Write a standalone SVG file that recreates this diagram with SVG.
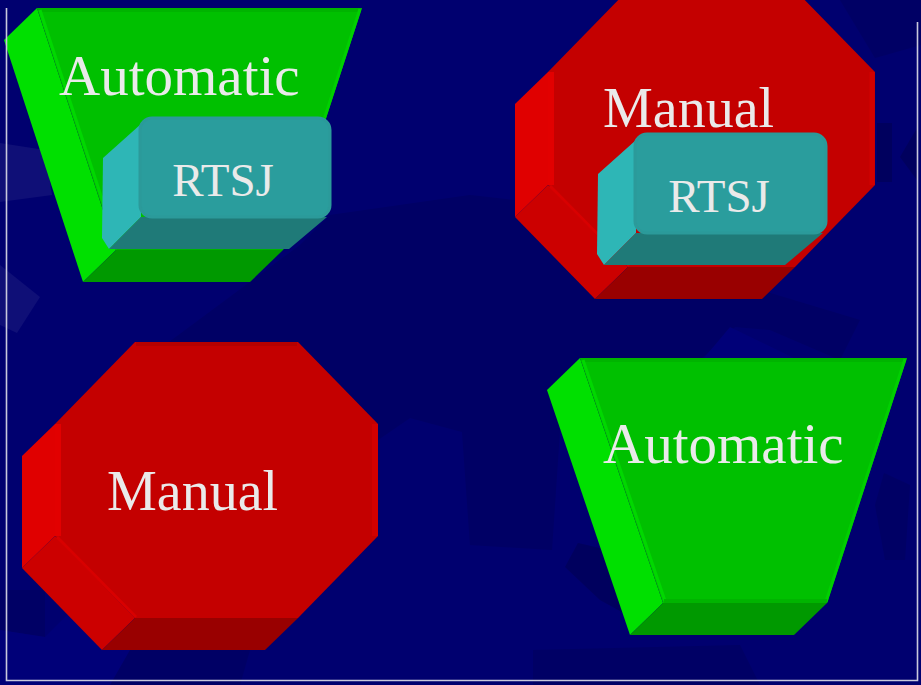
<svg xmlns="http://www.w3.org/2000/svg" width="921" height="685" viewBox="0 0 921 685">
  <style>
    .label { font-family: "Liberation Serif", "Times New Roman", serif; fill: #EAEAEA; }
    .big { font-size: 57px; }
    .mid { font-size: 56px; }
    .small { font-size: 47px; }
    .g-front { fill: #00C000; }
    .g-side { fill: #00E000; }
    .g-bottom { fill: #009900; }
    .r-front { fill: #C40000; }
    .r-side { fill: #E00000; }
    .r-diag { fill: #CC0000; }
    .r-bottom { fill: #990000; }
    .t-front { fill: #2A9D9D; stroke: #2B9A9A; stroke-width: 3; }
    .t-side { fill: #2EB6B6; }
    .t-bottom { fill: #1F7A78; }
    .bg-dark { fill: #000065; }
    .bg-darker { fill: #00005E; }
    .bg-light { fill: #000078; }
    .bg-haze { fill: #FFFFFF; opacity: 0.06; }
    .frame { stroke: #C8C8DC; stroke-width: 1.6; fill: none; }
  </style>

  <!-- backdrop -->
  <g id="background">
    <rect x="0" y="0" width="921" height="685" fill="#00006F"/>
    <polygon class="bg-dark" points="165,345 300,245 330,215 470,195 620,212 760,290 860,320 840,360 770,330 735,327 700,360 560,430 552,550 470,545 462,432 410,418 378,440 300,450 230,380"/>
    <polygon class="bg-light" points="704,358 730,327 794,358"/>
    <polygon class="bg-darker" points="565,567 578,543 630,555 640,622 600,600"/>
    <polygon class="bg-dark" points="530,390 548,390 548,547 530,547"/>
    <polygon class="bg-dark" points="533,650 740,645 760,685 533,685"/>
    <polygon class="bg-dark" points="117,650 250,650 240,685 110,685"/>
    <polygon class="bg-dark" points="0,590 45,590 45,637 0,630"/>
    <polygon class="bg-light" points="0,630 45,637 70,612 130,650 110,685 0,685"/>
    <polygon class="bg-haze" points="0,143 45,150 52,195 0,202"/>
    <polygon class="bg-haze" points="0,265 40,297 17,333 0,325"/>
    <polygon class="bg-darker" points="877,123 892,123 892,182 877,182"/>
    <polygon class="bg-darker" points="900,157 917,128 917,180"/>
    <polygon class="bg-dark" points="840,0 921,0 921,45 875,58"/>
    <polygon class="bg-dark" points="875,505 884,473 910,485 905,560 885,560"/>
  </g>

  <!-- Automatic (top left) with RTSJ -->
  <g id="node-automatic-1">
    <polygon class="g-side" points="37,8 116,250 83,282 4,40"/>
    <polygon class="g-bottom" points="116,250 283,250 250,282 83,282"/>
    <polygon class="g-front" points="37,8 362,8 283,250 116,250"/>
    <line x1="38" y1="10" x2="361" y2="10" stroke="#00B400" stroke-width="4"/>
    <line x1="360" y1="9" x2="282" y2="249" stroke="#00D000" stroke-width="3"/>
    <line x1="40" y1="10" x2="118" y2="248" stroke="#00D800" stroke-width="3"/>
    <line x1="117" y1="248" x2="283" y2="248" stroke="#00B400" stroke-width="4"/>
    <text class="label big" x="59" y="95">Automatic</text>
  </g>
  <g id="node-rtsj-1">
    <polygon class="t-side" points="141,124 103,158 102,238 109,249 141,217"/>
    <polygon class="t-bottom" points="109,249 141,217 327,217 289,249"/>
    <rect class="t-front" x="140" y="118" width="190" height="99" rx="12"/>
    <text class="label small" x="223" y="196" text-anchor="middle">RTSJ</text>
  </g>

  <!-- Manual (top right) with RTSJ -->
  <g id="node-manual-1">
    <polygon class="r-side" points="548,72 548,185 515,217 515,104"/>
    <polygon class="r-diag" points="548,185 628,267 595,299 515,217"/>
    <polygon class="r-bottom" points="628,267 795,267 762,299 595,299"/>
    <polygon class="r-front" points="628,-10 795,-10 875,72 875,185 795,267 628,267 548,185 548,72"/>
    <line x1="551" y1="72" x2="551" y2="185" stroke="#E20000" stroke-width="6"/>
    <line x1="550" y1="186" x2="629" y2="266" stroke="#D80000" stroke-width="3"/>
    <line x1="872" y1="72" x2="872" y2="185" stroke="#D20000" stroke-width="5"/>
    <text class="label mid" x="603" y="127">Manual</text>
  </g>
  <g id="node-rtsj-2">
    <polygon class="t-side" points="636,140 598,174 597,254 604,265 636,233"/>
    <polygon class="t-bottom" points="604,265 636,233 823,233 785,265"/>
    <rect class="t-front" x="635" y="134" width="191" height="99" rx="12"/>
    <text class="label small" x="719" y="212" text-anchor="middle">RTSJ</text>
  </g>

  <!-- Manual (bottom left) -->
  <g id="node-manual-2">
    <polygon class="r-side" points="55,424 55,536 22,568 22,456"/>
    <polygon class="r-diag" points="55,536 135,618 102,650 22,568"/>
    <polygon class="r-bottom" points="135,618 298,618 265,650 102,650"/>
    <polygon class="r-front" points="135,342 298,342 378,424 378,536 298,618 135,618 55,536 55,424"/>
    <line x1="136" y1="344" x2="297" y2="344" stroke="#B40000" stroke-width="4"/>
    <line x1="58" y1="424" x2="58" y2="536" stroke="#E20000" stroke-width="6"/>
    <line x1="57" y1="537" x2="136" y2="617" stroke="#D80000" stroke-width="3"/>
    <line x1="375" y1="424" x2="375" y2="536" stroke="#D20000" stroke-width="6"/>
    <text class="label mid" x="107" y="510">Manual</text>
  </g>

  <!-- Automatic (bottom right) -->
  <g id="node-automatic-2">
    <polygon class="g-side" points="580,358 663,603 630,635 547,390"/>
    <polygon class="g-bottom" points="663,603 827,603 794,635 630,635"/>
    <polygon class="g-front" points="580,358 907,358 827,603 663,603"/>
    <line x1="581" y1="360" x2="906" y2="360" stroke="#00B400" stroke-width="4"/>
    <line x1="905" y1="359" x2="826" y2="602" stroke="#00D000" stroke-width="3"/>
    <line x1="583" y1="360" x2="665" y2="601" stroke="#00D800" stroke-width="3"/>
    <line x1="664" y1="601" x2="827" y2="601" stroke="#00B400" stroke-width="4"/>
    <text class="label big" x="603" y="463">Automatic</text>
  </g>

  <!-- connectors: none drawn -->
  <g id="connectors"/>

  <!-- slide frame -->
  <g id="frame">
    <polyline class="frame" points="6.5,8 6.5,680.5 917.5,680.5 917.5,22"/>
  </g>
</svg>
